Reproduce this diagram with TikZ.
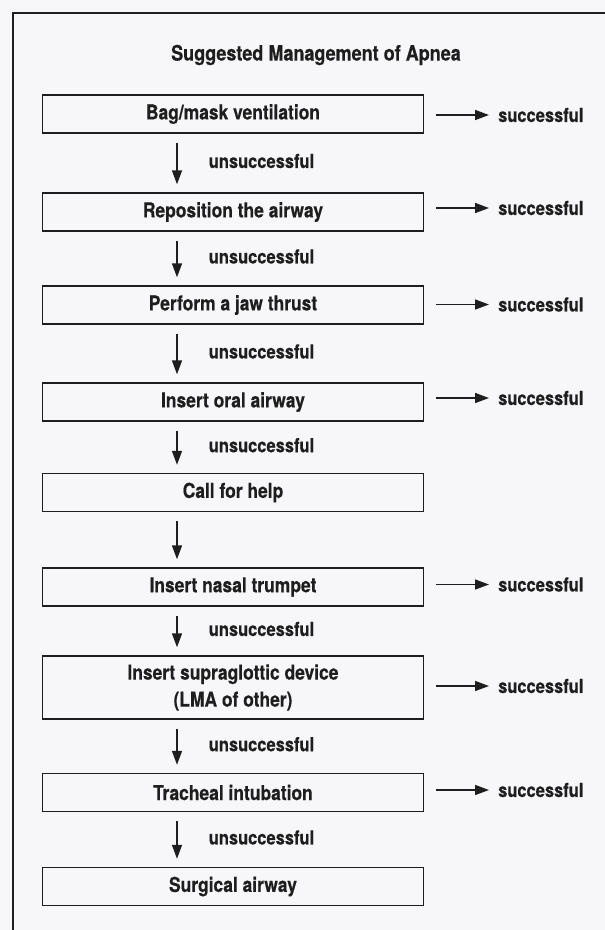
\documentclass[tikz,border=0pt]{standalone}
\usepackage{fontspec}
\setmainfont{TeX Gyre Heros}[FakeStretch=0.85,BoldFeatures={FakeBold=0.4}]
\usetikzlibrary{arrows.meta}
\definecolor{paper}{RGB}{247,247,250}
\definecolor{ink}{RGB}{30,30,30}
\tikzstyle{box}=[rectangle,draw=ink,line width=1.4pt,minimum width=381pt,minimum height=38pt,inner sep=0pt,align=center,text=ink,font=\fontsize{20.5}{27}\selectfont\bfseries]
\tikzstyle{succ}=[anchor=west,inner sep=0pt,text=ink,font=\fontsize{19.4}{22}\selectfont\bfseries]
\tikzstyle{down}=[draw=ink,line width=1.6pt,-{Triangle[length=14pt,width=10pt]},shorten <=9pt,shorten >=8pt]
\tikzstyle{yes}=[draw=ink,line width=1.6pt,-{Triangle[length=14pt,width=10pt]},shorten <=12pt,shorten >=9pt]

\begin{document}
\begin{tikzpicture}[x=1pt,y=-1pt]
			\useasboundingbox (0,0) rectangle (605,930);
			\fill[paper] (0,0) rectangle (605,930);
			\draw[ink,line width=2pt] (615,13) -- (12.5,13) -- (12.5,940);
			\node (title) at (316,55) [text=ink,font=\fontsize{21.2}{24}\selectfont\bfseries] {Suggested Management of Apnea};
			\node (b1) at (233,114) [box] {Bag/mask ventilation};
			\node (b2) at (233,212) [box] {Reposition the airway};
			\node (b3) at (233,305) [box] {Perform a jaw thrust};
			\node (b4) at (233,402) [box] {Insert oral airway};
			\node (b5) at (233,492.5) [box] {Call for help};
			\node (b6) at (233,587) [box] {Insert nasal trumpet};
			\node (b7) at (233,687.5) [box,minimum height=63pt] {Insert supraglottic device\\(LMA of other)};
			\node (b8) at (233,792.5) [box] {Tracheal intubation};
			\node (b9) at (233,886.5) [box] {Surgical airway};
			\node (s1) at (498,115) [succ] {successful};
			\node (s2) at (498,208) [succ] {successful};
			\node (s3) at (498,304.5) [succ] {successful};
			\node (s4) at (498,398) [succ] {successful};
			\node (s6) at (498,584.5) [succ] {successful};
			\node (s7) at (498,686) [succ] {successful};
			\node (s8) at (498,790) [succ] {successful};
			\foreach \n in {1,2,3,4,6,7,8}
				\draw[yes] (b\n.east |- s\n.west) -- (s\n.west);
			\foreach \a/\b in {1/2,2/3,3/4,4/5,6/7,7/8,8/9}
				\draw[down] ([xshift=-56pt]b\a.south) -- ([xshift=-56pt]b\b.north) node[midway,succ,xshift=31pt,yshift=2pt] {unsuccessful};
			\draw[down] ([xshift=-56pt]b5.south) -- ([xshift=-56pt]b6.north);
		\end{tikzpicture}
\end{document}
